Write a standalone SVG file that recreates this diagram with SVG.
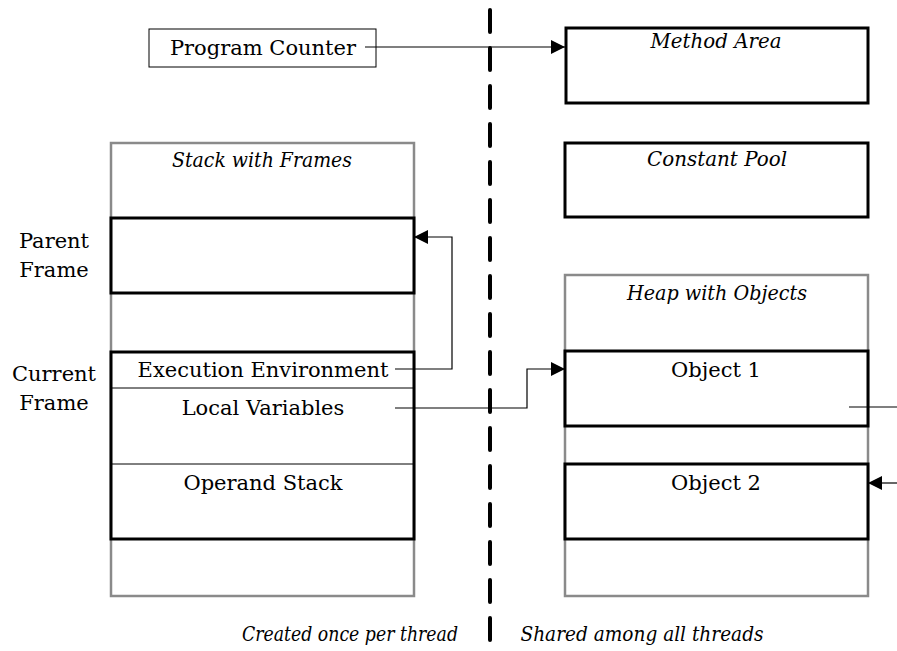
<svg xmlns="http://www.w3.org/2000/svg" width="897" height="651" viewBox="0 0 897 651">
  <defs>
    <marker id="arrow" viewBox="0 0 10 10" refX="10" refY="5" markerWidth="14" markerHeight="14" markerUnits="userSpaceOnUse" orient="auto">
      <path d="M0,0 L10,5 L0,10 Z" fill="#000"/>
    </marker>
    <style>
      text { font-family: "DejaVu Serif", "Liberation Serif", serif; font-size: 21px; fill: #000; }
      .it { font-style: italic; font-size: 21px; }
      .mid { text-anchor: middle; }
      .outer { fill: #fff; stroke: #8a8a8a; stroke-width: 2.5; }
      .frame { fill: #fff; stroke: #000; stroke-width: 3; }
      .thin { fill: none; stroke: #000; stroke-width: 1; }
      .conn { fill: none; stroke: #000; stroke-width: 1.2; }
      .divider { fill: none; stroke: #000; stroke-width: 4; stroke-dasharray: 22 16; stroke-linecap: round; }
    </style>
  </defs>

  <rect width="897" height="651" fill="#fff"/>

  <!-- thread boundary -->
  <line class="divider" x1="490" y1="10" x2="490" y2="651"/>

  <!-- per-thread side -->
  <g id="program-counter">
    <rect x="149" y="29" width="227" height="38" fill="#fff" stroke="#000" stroke-width="1"/>
    <text x="263" y="55" class="mid">Program Counter</text>
  </g>

  <g id="stack">
    <rect class="outer" x="111" y="143" width="303" height="453"/>
    <text x="262" y="167" class="mid it" textLength="180" lengthAdjust="spacingAndGlyphs">Stack with Frames</text>
  </g>

  <g id="parent-frame">
    <rect class="frame" x="111" y="218" width="303" height="75"/>
    <text x="54" y="248" class="mid">Parent</text>
    <text x="54" y="277" class="mid">Frame</text>
  </g>

  <g id="current-frame">
    <rect class="frame" x="111" y="352" width="303" height="187"/>
    <line class="thin" x1="111" y1="388" x2="414" y2="388"/>
    <line class="thin" x1="111" y1="464" x2="414" y2="464"/>
    <text x="263" y="377" class="mid">Execution Environment</text>
    <text x="263" y="415" class="mid">Local Variables</text>
    <text x="263" y="490" class="mid">Operand Stack</text>
    <text x="54" y="381" class="mid">Current</text>
    <text x="54" y="410" class="mid">Frame</text>
  </g>

  <text x="350" y="641" class="mid it" textLength="216" lengthAdjust="spacingAndGlyphs">Created once per thread</text>

  <!-- shared side -->
  <g id="method-area">
    <rect class="frame" x="566" y="28" width="302" height="75"/>
    <text x="716" y="48" class="mid it" textLength="131" lengthAdjust="spacingAndGlyphs">Method Area</text>
  </g>

  <g id="constant-pool">
    <rect class="frame" x="565" y="143" width="303" height="74"/>
    <text x="717" y="166" class="mid it" textLength="140" lengthAdjust="spacingAndGlyphs">Constant Pool</text>
  </g>

  <g id="heap">
    <rect class="outer" x="565" y="275" width="303" height="321"/>
    <text x="717" y="300" class="mid it" textLength="180" lengthAdjust="spacingAndGlyphs">Heap with Objects</text>
  </g>

  <g id="object-1">
    <rect class="frame" x="565" y="351" width="303" height="75"/>
    <text x="716" y="377" class="mid">Object 1</text>
  </g>

  <g id="object-2">
    <rect class="frame" x="565" y="464" width="303" height="75"/>
    <text x="716" y="490" class="mid">Object 2</text>
  </g>

  <text x="642" y="641" class="mid it" textLength="243" lengthAdjust="spacingAndGlyphs">Shared among all threads</text>

  <!-- references -->
  <g id="connectors">
    <polyline class="conn" points="365,47 565,47" marker-end="url(#arrow)"/>
    <polyline class="conn" points="395,369 452,369 452,237 414,237" marker-end="url(#arrow)" stroke="#444"/>
    <polyline class="conn" points="395,408 527,408 527,369 565,369" marker-end="url(#arrow)"/>
    <polyline class="conn" points="849,407 897,407"/>
    <polyline class="conn" points="897,483 868,483" marker-end="url(#arrow)"/>
  </g>
</svg>
